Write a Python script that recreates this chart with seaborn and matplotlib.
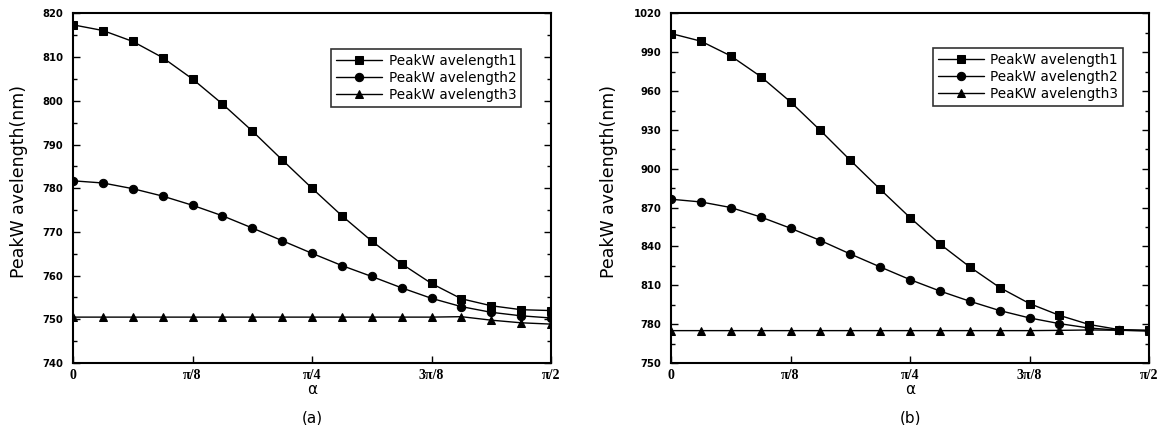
import numpy as np
import pandas as pd
import matplotlib
matplotlib.use("Agg")
import matplotlib.pyplot as plt
import seaborn as sns

# alpha runs from 0 to pi/2 in steps of pi/32 (17 points)
alpha = np.linspace(0, np.pi / 2, 17)

# panel (a)
a_peak1 = [817.4, 816.1, 813.6, 809.9, 805.0, 799.3, 793.1, 786.5, 780.0,
           773.7, 767.9, 762.7, 758.2, 754.7, 753.1, 752.2, 752.0]
a_peak2 = [781.7, 781.2, 779.9, 778.2, 776.1, 773.7, 770.9, 768.0, 765.1,
           762.3, 759.8, 757.2, 754.8, 752.9, 751.6, 750.8, 750.3]
a_peak3 = [750.5, 750.5, 750.5, 750.5, 750.5, 750.5, 750.5, 750.5, 750.5,
           750.5, 750.5, 750.5, 750.5, 750.6, 749.8, 749.2, 748.9]
a_labels = ["PeakW avelength1", "PeakW avelength2", "PeakW avelength3"]

# panel (b)
b_peak1 = [1004.5, 998.6, 987.2, 971.3, 951.7, 929.6, 906.6, 884.2, 862.3,
           841.9, 824.2, 808.3, 795.9, 786.8, 779.7, 775.8, 775.3]
b_peak2 = [876.5, 874.4, 870.1, 862.8, 854.1, 844.6, 834.2, 824.2, 814.4,
           805.6, 797.7, 790.5, 784.8, 780.4, 777.0, 775.3, 774.7]
b_peak3 = [775.0, 775.0, 775.0, 775.0, 775.0, 775.0, 775.0, 775.0, 775.0,
           775.0, 775.0, 775.0, 775.0, 775.2, 775.5, 775.3, 775.0]
b_labels = ["PeakW avelength1", "PeakW avelength2", "PeaKW avelength3"]

xtick_vals = [0, np.pi / 8, np.pi / 4, 3 * np.pi / 8, np.pi / 2]
xtick_labels = ["0", "π/8", "π/4", "3π/8", "π/2"]

sns.set_style("ticks")
plt.rcParams["font.family"] = ["DejaVu Sans"]
# scanned figure: everything is plain black
for key in ["text.color", "axes.labelcolor", "xtick.color", "ytick.color"]:
    plt.rcParams[key] = "black"


def long_form(series, labels):
    frames = []
    for vals, lab in zip(series, labels):
        frames.append(pd.DataFrame({"alpha": alpha, "wl": vals, "series": lab}))
    return pd.concat(frames, ignore_index=True)


def draw(ax, df, labels, ylim, ystep, legend_anchor, label_x, tag):
    sns.lineplot(
        data=df, x="alpha", y="wl", style="series", style_order=labels,
        markers=["s", "o", "^"], dashes=False, color="black",
        markersize=6, linewidth=1.0, markeredgecolor="black", ax=ax,
    )
    ax.set_xlim(0, np.pi / 2)
    ax.set_ylim(*ylim)
    ax.set_yticks(np.arange(ylim[0], ylim[1] + 1, ystep))
    ax.set_yticks(np.arange(ylim[0], ylim[1], ystep / 2), minor=True)
    ax.set_xticks(xtick_vals)
    ax.set_xticklabels(xtick_labels, family=["Liberation Serif", "DejaVu Serif"],
                       fontsize=10, fontweight="bold")
    for t in ax.get_yticklabels():
        t.set_fontweight("bold")
        t.set_fontsize(7.2)
    ax.tick_params(axis="both", which="both", direction="in", right=True,
                   top=False, width=1.0)
    ax.tick_params(axis="both", which="major", length=5)
    ax.tick_params(axis="both", which="minor", length=3)
    ax.tick_params(axis="y", pad=7)
    ax.tick_params(axis="x", pad=4)
    for sp in ax.spines.values():
        sp.set_visible(True)
        sp.set_linewidth(1.5)
        sp.set_color("black")
    ax.set_xlabel("α", fontsize=11, labelpad=0)
    ax.set_ylabel("PeakW avelength(nm)", fontsize=12.5)
    ax.yaxis.set_label_coords(label_x, 0.52)
    ax.text(0.5, -0.135, tag, transform=ax.transAxes, ha="center", va="top",
            fontsize=11)
    handles, labs = ax.get_legend_handles_labels()
    leg = ax.legend(handles, labs, loc="upper right", bbox_to_anchor=legend_anchor,
                    borderaxespad=0, frameon=True, fancybox=False,
                    edgecolor="black", fontsize=9.8, handlelength=3.4,
                    labelspacing=0.22, borderpad=0.35, handletextpad=0.45)
    leg.get_frame().set_linewidth(1.2)


fig = plt.figure(figsize=(11.61, 4.25), dpi=100)
ax1 = fig.add_axes([0.0629, 0.1459, 0.4117, 0.8224])
ax2 = fig.add_axes([0.578, 0.1459, 0.4117, 0.8224])

draw(ax1, long_form([a_peak1, a_peak2, a_peak3], a_labels), a_labels,
     (740, 820), 10, (0.937, 0.898), -0.094, "(a)")
draw(ax2, long_form([b_peak1, b_peak2, b_peak3], b_labels), b_labels,
     (750, 1020), 30, (0.946, 0.900), -0.111, "(b)")

fig.savefig("out.png", dpi=100)
